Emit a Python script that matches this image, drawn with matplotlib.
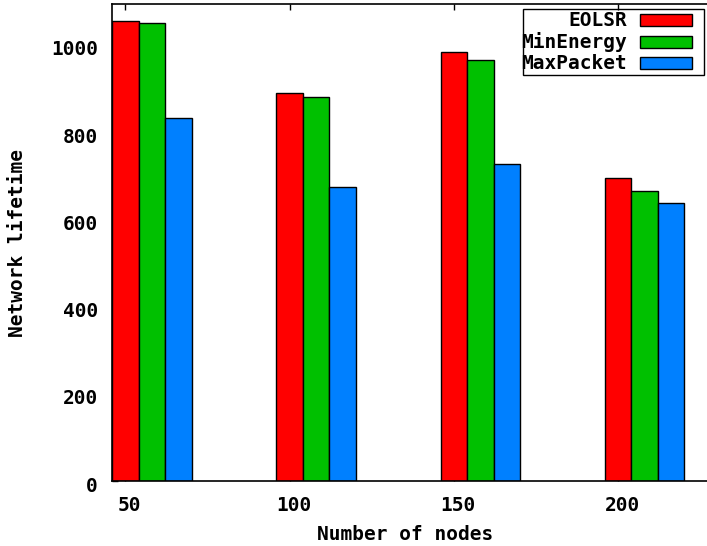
import numpy as np
import matplotlib
matplotlib.use("Agg")
import matplotlib.pyplot as plt
import matplotlib.transforms as mtransforms
from matplotlib.patches import Rectangle

# values
nodes = ["50", "100", "150", "200"]
eolsr = [1055, 889, 985, 695]
min_energy = [1050, 881, 966, 665]
max_packet = [832, 674, 726, 638]

series = [("EOLSR", eolsr, "#ff0000"),
          ("MinEnergy", min_energy, "#00c000"),
          ("MaxPacket", max_packet, "#0080ff")]

plt.rcParams["font.family"] = "DejaVu Sans Mono"
plt.rcParams["font.weight"] = "bold"

W, H = 707, 546
fig = plt.figure(figsize=(W / 100, H / 100), dpi=100)
# axes box in pixels: left 112, bottom 481 (from top), top 4, right past the edge
ax = fig.add_axes([112 / W, 65 / H, (715 - 112) / W, 477 / H])

width = 0.1613
x = np.arange(len(nodes))
for k, (name, vals, col) in enumerate(series):
    ax.bar(x + k * width, vals, width, color=col, edgecolor="black",
           linewidth=1.0, label=name, zorder=2)

group_px = 164.3
ax.set_xlim(-width / 2, -width / 2 + (715 - 112) / group_px)
ax.set_ylim(0, 1094)
ax.set_xticks(x)
ax.set_xticklabels(nodes)
ax.set_yticks([0, 200, 400, 600, 800, 1000])
ax.set_axisbelow(True)

ax.spines["right"].set_visible(False)
for s in ["left", "bottom", "top"]:
    ax.spines[s].set_linewidth(1.2)
ax.tick_params(axis="x", direction="in", top=True, length=4, width=1,
               labelsize=14, pad=11)
ax.tick_params(axis="y", direction="in", right=False, length=4, width=1,
               labelsize=14, pad=10)

# gnuplot-ish label offsets
for lab in ax.get_xticklabels():
    lab.set_transform(lab.get_transform() +
                      mtransforms.ScaledTranslation(4 / 100, 0, fig.dpi_scale_trans))
for lab in ax.get_yticklabels():
    lab.set_transform(lab.get_transform() +
                      mtransforms.ScaledTranslation(0, -3 / 100, fig.dpi_scale_trans))

fig.text(405 / W, 1 - 535 / H, "Number of nodes", ha="center", va="center",
         fontsize=14, fontweight="bold")
fig.text(18 / W, 1 - 243 / H, "Network lifetime", ha="center", va="center",
         rotation=90, fontsize=14, fontweight="bold")

# key: text left, swatch right, box drawn separately like gnuplot
leg = ax.legend(loc="upper right", bbox_to_anchor=(692 / W, 1 - 11.5 / H),
                bbox_transform=fig.transFigure, markerfirst=False,
                fontsize=14, handlelength=2.68, handleheight=0.57,
                labelspacing=0.1, borderpad=0, handletextpad=0.65,
                borderaxespad=0, frameon=False)
for t in leg.get_texts():
    t.set_ha("right")
fig.patches.append(Rectangle((523 / W, 1 - 75 / H), (704 - 523) / W, 66 / H,
                             transform=fig.transFigure, fill=False,
                             edgecolor="black", linewidth=1.0))

fig.savefig("out.png", dpi=100)
